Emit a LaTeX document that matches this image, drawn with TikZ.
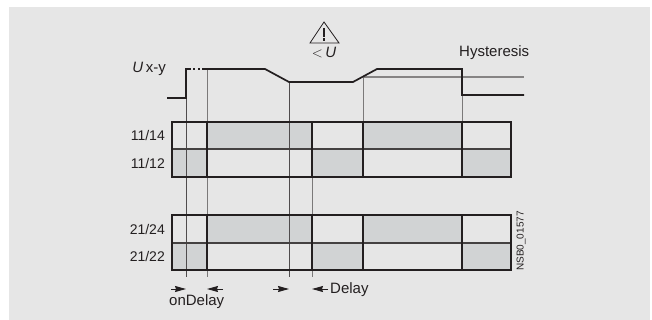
\documentclass[tikz,border=0pt]{standalone}
\usepackage{fontspec}
\setmainfont{Liberation Sans}
\usetikzlibrary{arrows.meta}
\definecolor{panel}{HTML}{E6E6E6}
\definecolor{contact}{HTML}{D1D3D4}
\definecolor{ink}{HTML}{231F20}
\tikzset{
  lbl/.style={text=ink,inner sep=0pt,font=\fontsize{15}{15}\selectfont},
  rowlbl/.style={lbl,anchor=east,font=\fontsize{14}{14}\selectfont},
  signal/.style={draw=ink,line width=1.7pt},
  guide/.style={draw=ink!80,line width=0.8pt},
  rowbox/.style={draw=ink,line width=1.7pt},
  rowmid/.style={draw=ink!85,line width=1.5pt},
  on/.style={fill=contact},
  span/.style={-{Stealth[length=11pt,width=6pt,inset=1pt]},draw=ink,line width=0.9pt}
}
\begin{document}
\begin{tikzpicture}[x=1pt,y=-1pt]
\useasboundingbox(0,0)rectangle(652,320);
\fill[panel](9,7)rectangle(650,320);
\coordinate(t1) at(186,69);
\coordinate(t2) at(207,69);
\coordinate(t3) at(289,82);
\coordinate(t4) at(312,122);
\coordinate(t5) at(363,77);
\coordinate(t6) at(462,69);
% contact rows
\fill[on](t2|-0,122)rectangle(t4|-0,149);
\fill[on](t5|-0,122)rectangle(t6|-0,149);
\fill[on](172,149)rectangle(t2|-0,177);
\fill[on](t4|-0,149)rectangle(t5|-0,177);
\fill[on](t6|-0,149)rectangle(511,177);
\fill[on](t2|-0,215)rectangle(t4|-0,243);
\fill[on](t5|-0,215)rectangle(t6|-0,243);
\fill[on](172,243)rectangle(t2|-0,270);
\fill[on](t4|-0,243)rectangle(t5|-0,270);
\fill[on](t6|-0,243)rectangle(511,270);
% time lines
\draw[guide](t1)--(t1|-0,277);
\draw[guide,draw=ink!60](t2)--(t2|-0,277);
\draw[guide](t3)--(t3|-0,277);
\draw[guide,draw=ink!60](t4)--(t4|-0,277);
\draw[guide,draw=ink!60](t5)--(t5|-0,122);
\draw[guide,draw=ink!60](t6)--(t6|-0,122);
% row frames
\draw[rowmid](172,149)--(511,149);
\draw[rowmid](172,243)--(511,243);
\draw[rowbox](172,122)rectangle(511,177);
\draw[rowbox](172,215)rectangle(511,270);
\draw[rowbox](t2|-0,122)--(t2|-0,177);
\draw[rowbox](t4|-0,122)--(t4|-0,177);
\draw[rowbox](t5|-0,122)--(t5|-0,177);
\draw[rowbox](t6|-0,122)--(t6|-0,177);
\draw[rowbox](t2|-0,215)--(t2|-0,270);
\draw[rowbox](t4|-0,215)--(t4|-0,270);
\draw[rowbox](t5|-0,215)--(t5|-0,270);
\draw[rowbox](t6|-0,215)--(t6|-0,270);
% voltage curve
\draw[draw=ink!55,line width=1.2pt](t5)--(524,77);
\draw[signal](167,98)--(186,98)--(t1)--(191,69);
\draw[signal,dash pattern=on 2pt off 3pt](193,69)--(201,69);
\draw[signal](202,69)--(265,69)--(t3)--(353,82)--(377,69)--(t6)--(462,95)--(524,95);
% warning sign
\coordinate(warn) at(324,22);
\draw[draw=ink,line width=0.8pt,line join=miter](warn)--(310,43)--(339,43)--cycle;
\draw[draw=ink,line width=1.8pt](324,28)--(324,37);
\draw[draw=ink,line width=1.8pt](324,38.5)--(324,41);
\node[lbl](warntext)at(324,53){$<$\,\textit{U}};
% labels
\node[lbl,anchor=east](ux)at(166,69){\textit{U}\,x-y};
\node[lbl,anchor=west](hyst)at(459,53){Hysteresis};
\node[rowlbl](k1)at(165,135){11/14};
\node[rowlbl](k2)at(165,163){11/12};
\node[rowlbl](k3)at(165,229){21/24};
\node[rowlbl](k4)at(165,256){21/22};
\node[lbl,rotate=90,font=\fontsize{10}{10}\selectfont](code)at(521,241){NSB0\_01577};
% delay marks
\coordinate(a1) at(171,289);
\coordinate(a2) at(223,289);
\coordinate(a3) at(273,289);
\coordinate(a4) at(328,289);
\draw[span](a1)--(t1|-a1);
\draw[span](a2)--(t2|-a2);
\draw[span](a3)--(t3|-a3);
\draw[span](a4)--(t4|-a4);
\node[lbl,anchor=west](dly)at(330,290){Delay};
\node[lbl,anchor=west](ondly)at(169,302){onDelay};
\end{tikzpicture}
\end{document}
